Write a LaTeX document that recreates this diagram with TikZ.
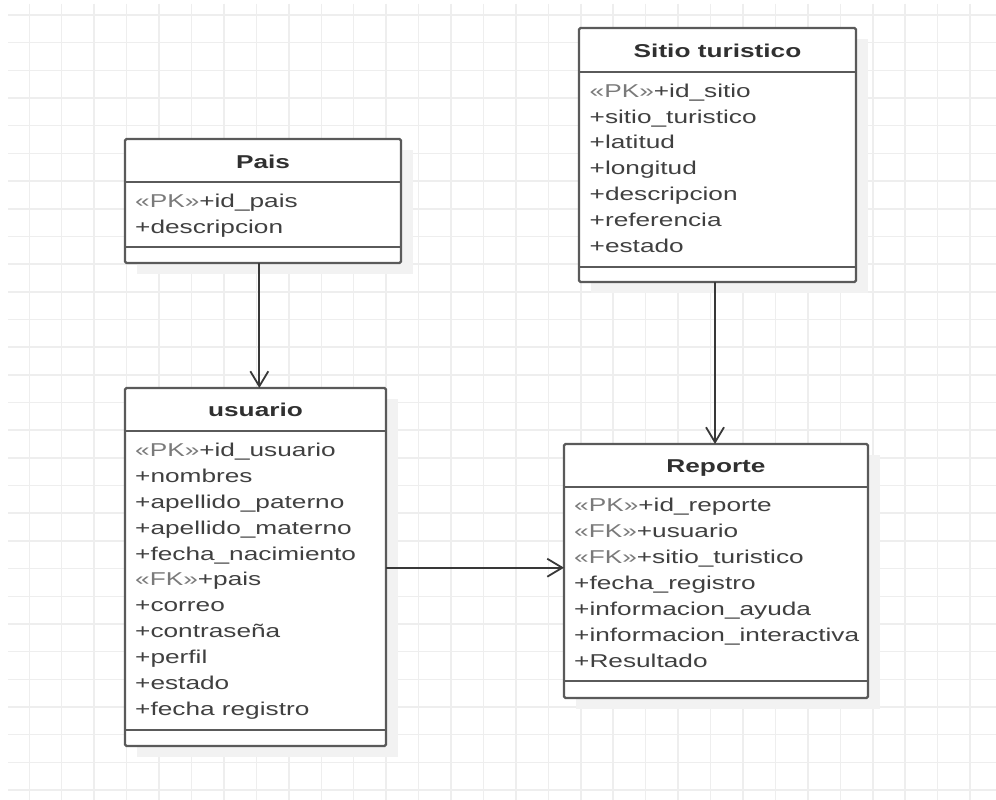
\documentclass[tikz,border=0pt]{standalone}
\usepackage{fontspec}
\setmainfont{Liberation Sans}[FakeStretch=1.41]
\usetikzlibrary{arrows.meta}
\definecolor{gridc}{HTML}{EEEEEE}
\definecolor{shadowc}{HTML}{F2F2F2}
\definecolor{boxc}{HTML}{5A5A5A}
\definecolor{txtc}{HTML}{404040}
\definecolor{titc}{HTML}{303030}
\definecolor{stc}{HTML}{7A7A7A}
\definecolor{linec}{HTML}{383838}
\newcommand{\stereo}[1]{\textcolor{stc}{#1}}
\tikzset{
  umlbox/.style={draw=boxc, line width=2.4pt, fill=white, rounded corners=1.5pt,
    inner sep=0pt, outer sep=0pt, anchor=north west},
  shadowbox/.style={fill=shadowc, draw=none, inner sep=0pt, outer sep=0pt, anchor=north west},
  sepline/.style={draw=boxc, line width=2.4pt},
  titletext/.style={font=\fontsize{18.6}{20}\selectfont\bfseries, text=titc, anchor=base, inner sep=0pt},
  attrtext/.style={font=\fontsize{18.6}{20}\selectfont, text=txtc, anchor=base west, inner sep=0pt},
  conn/.style={draw=linec, line width=1.8pt,
    -{Straight Barb[length=15pt, width=18pt, line width=1.8pt]}},
  gridline/.style={draw=gridc, line width=1.5pt},
}
\begin{document}
\begin{tikzpicture}[x=1pt, y=-1pt]
\useasboundingbox (0,0) rectangle (996,800);
\fill[white] (0,0) rectangle (996,800);
% grid
\foreach \i in {0,...,29} \draw[gridline] ({29.3+32.44*\i},4) -- ({29.3+32.44*\i},800);
\foreach \j in {0,...,28} \draw[gridline] (8,{15+27.68*\j}) -- (996,{15+27.68*\j});
% shadows
\node[shadowbox, minimum width=276pt, minimum height=124pt] (paisS) at (137,150) {};
\node[shadowbox, minimum width=277pt, minimum height=254pt] (sitioS) at (591,39) {};
\node[shadowbox, minimum width=261pt, minimum height=358pt] (usuarioS) at (137,399) {};
\node[shadowbox, minimum width=304pt, minimum height=254pt] (reporteS) at (576,455) {};
% boxes
\node[umlbox, minimum width=276pt, minimum height=124pt] (pais) at (125,139) {};
\node[umlbox, minimum width=277pt, minimum height=254pt] (sitio) at (579,28) {};
\node[umlbox, minimum width=261pt, minimum height=358pt] (usuario) at (125,388) {};
\node[umlbox, minimum width=304pt, minimum height=254pt] (reporte) at (564,444) {};
% separators
\draw[sepline] (pais.west |- 0,182) -- (pais.east |- 0,182);
\draw[sepline] (pais.west |- 0,247) -- (pais.east |- 0,247);
\draw[sepline] (sitio.west |- 0,72) -- (sitio.east |- 0,72);
\draw[sepline] (sitio.west |- 0,267) -- (sitio.east |- 0,267);
\draw[sepline] (usuario.west |- 0,431) -- (usuario.east |- 0,431);
\draw[sepline] (usuario.west |- 0,730) -- (usuario.east |- 0,730);
\draw[sepline] (reporte.west |- 0,487) -- (reporte.east |- 0,487);
\draw[sepline] (reporte.west |- 0,681) -- (reporte.east |- 0,681);
% titles
\node[titletext] (paisT) at (263,168.3) {Pais};
\node[titletext] (sitioT) at (717.5,57.3) {Sitio turistico};
\node[titletext] (usuarioT) at (255.5,416.7) {usuario};
\node[titletext] (reporteT) at (716,472.3) {Reporte};
% Pais attributes
\node[attrtext] (p1) at (135,207.3) {\stereo{«PK»}+id\_pais};
\node[attrtext] (p2) at (135,233.2) {+descripcion};
% Sitio attributes
\foreach \t [count=\k from 0] in {{\stereo{«PK»}+id\_sitio},{+sitio\_turistico},{+latitud},{+longitud},{+descripcion},{+referencia},{+estado}}
  \node[attrtext] (s\k) at (589.5,{97.3+25.83*\k}) {\t};
% usuario attributes
\foreach \t [count=\k from 0] in {{\stereo{«PK»}+id\_usuario},{+nombres},{+apellido\_paterno},{+apellido\_materno},{+fecha\_nacimiento},{\stereo{«FK»}+pais},{+correo},{+contraseña},{+perfil},{+estado},{+fecha registro}}
  \node[attrtext] (u\k) at (135,{456.7+25.83*\k}) {\t};
% Reporte attributes
\foreach \t [count=\k from 0] in {{\stereo{«PK»}+id\_reporte},{\stereo{«FK»}+usuario},{\stereo{«FK»}+sitio\_turistico},{+fecha\_registro},{+informacion\_ayuda},{+informacion\_interactiva},{+Resultado}}
  \node[attrtext] (r\k) at (574,{511.7+25.93*\k}) {\t};
% connectors
\coordinate (c1) at (259.3,0);
\coordinate (c2) at (715,0);
\coordinate (c3) at (0,567.7);
\draw[conn] (pais.south -| c1) -- (usuario.north -| c1);
\draw[conn] (sitio.south -| c2) -- (reporte.north -| c2);
\draw[conn] (usuario.east |- c3) -- (reporte.west |- c3);
\end{tikzpicture}
\end{document}
